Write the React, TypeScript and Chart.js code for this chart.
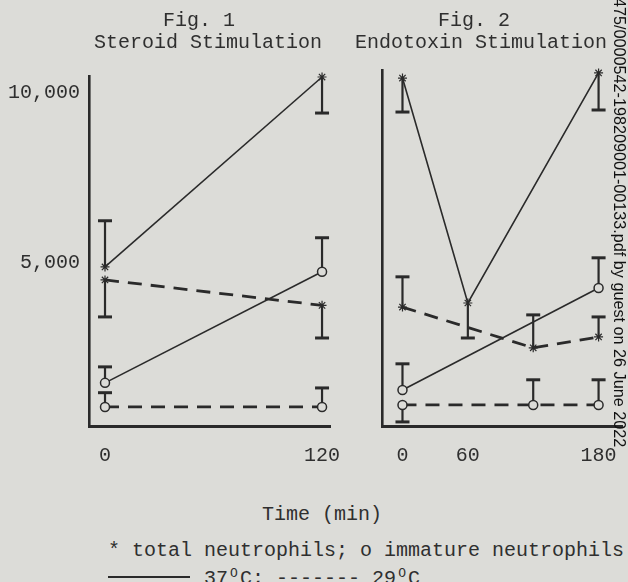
import React, { useEffect, useRef } from 'react';
import { Chart, registerables } from 'chart.js';

Chart.register(...registerables);

// ---- data (cells per mm3, time in minutes) ----
const fig1Times = [0, 120];
const fig1Total37 = [4880, 10470];
const fig1Total37Err = [6240, 9410];
const fig1Total29 = [4500, 3750];
const fig1Total29Err = [3410, 2790];
const fig1Imm37 = [1470, 4740];
const fig1Imm37Err = [1940, 5740];
const fig1Imm29 = [760, 760];
const fig1Imm29Err = [1180, 1320];

const fig2Times = [0, 60, 120, 180];
const fig2Total37 = [10440, 3820, null, 10590];
const fig2Total37Err = [9440, 2790, null, 9500];
const fig2Total29 = [3700, null, 2500, 2820];
const fig2Total29Err = [4590, null, 3470, 3410];
const fig2Imm37 = [1260, null, null, 4260];
const fig2Imm37Err = [2030, null, null, 5150];
const fig2Imm29 = [820, null, 820, 820];
const fig2Imm29Err = [320, null, 1560, 1560];

const fig1XTicks = [0, 120];
const fig2XTicks = [0, 60, 180];
const yTicks = [5000, 10000];

const BG = '#dcdcd8';
const INK = '#2a2a2a';
const TEXT = '#2f2f2f';
const MONO = '"Liberation Mono", "DejaVu Sans Mono", monospace';

type Pt = { x: number; y: number; e: number | null };

function series(times: number[], vals: (number | null)[], errs: (number | null)[]): Pt[] {
  const out: Pt[] = [];
  times.forEach((t, k) => {
    const v = vals[k];
    if (v != null) out.push({ x: t, y: v, e: errs[k] });
  });
  return out;
}

const errorBarPlugin = {
  id: 'errBars',
  beforeDatasetsDraw(chart: any) {
    const ctx = chart.ctx;
    const ys = chart.scales.y;
    ctx.save();
    ctx.strokeStyle = INK;
    chart.data.datasets.forEach((ds: any, i: number) => {
      const meta = chart.getDatasetMeta(i);
      ds.data.forEach((p: Pt, j: number) => {
        if (p.e == null) return;
        const el = meta.data[j];
        const px = el.x;
        const py = el.y;
        const ey = ys.getPixelForValue(p.e);
        ctx.lineWidth = 2.2;
        ctx.beginPath();
        ctx.moveTo(px, py);
        ctx.lineTo(px, ey);
        ctx.stroke();
        ctx.lineWidth = 3;
        ctx.beginPath();
        ctx.moveTo(px - 7, ey);
        ctx.lineTo(px + 7, ey);
        ctx.stroke();
      });
    });
    ctx.restore();
  },
};

function makeDatasets(
  times: number[],
  t37: (number | null)[], t37e: (number | null)[],
  t29: (number | null)[], t29e: (number | null)[],
  i37: (number | null)[], i37e: (number | null)[],
  i29: (number | null)[], i29e: (number | null)[],
) {
  const solid = { borderColor: INK, borderWidth: 1.6, borderDash: [] as number[] };
  const dashed = { borderColor: INK, borderWidth: 2.8, borderDash: [14, 9] };
  const star = { pointStyle: 'star', pointRadius: 4.5, pointBorderWidth: 1.2, pointBorderColor: INK, pointBackgroundColor: INK };
  const circ = { pointStyle: 'circle', pointRadius: 4.5, pointBorderWidth: 1.5, pointBorderColor: INK, pointBackgroundColor: BG };
  return [
    { label: 'total 37', data: series(times, t37, t37e), ...solid, ...star },
    { label: 'total 29', data: series(times, t29, t29e), ...dashed, ...star },
    { label: 'immature 37', data: series(times, i37, i37e), ...solid, ...circ },
    { label: 'immature 29', data: series(times, i29, i29e), ...dashed, ...circ },
  ].map((d) => ({ ...d, fill: false, tension: 0, clip: false, showLine: true }));
}

function makeConfig(opts: {
  datasets: any[];
  xTicks: number[];
  xMin: number;
  xMax: number;
  yMax: number;
  showY: boolean;
  yWidth: number;
  top: number;
  right: number;
  height: number;
  axisY: number;
}) {
  return {
    type: 'line',
    data: { datasets: opts.datasets },
    plugins: [errorBarPlugin],
    options: {
      animation: false,
      responsive: false,
      maintainAspectRatio: false,
      layout: { padding: { top: opts.top, right: opts.right, left: 0, bottom: 0 } },
      plugins: { legend: { display: false }, tooltip: { enabled: false } },
      scales: {
        x: {
          type: 'linear',
          min: opts.xMin,
          max: opts.xMax,
          afterBuildTicks: (s: any) => {
            s.ticks = opts.xTicks.map((v) => ({ value: v }));
          },
          afterFit: (s: any) => {
            s.height = opts.height - opts.axisY;
            s.paddingLeft = 0;
            s.paddingRight = 0;
          },
          grid: { display: false, drawTicks: false },
          border: { display: true, color: INK, width: 3 },
          ticks: {
            autoSkip: false,
            maxRotation: 0,
            padding: 18,
            color: TEXT,
            font: { family: MONO, size: 20 },
            callback: (v: any) => String(v),
          },
        },
        y: {
          type: 'linear',
          min: 200,
          max: opts.yMax,
          afterBuildTicks: (s: any) => {
            s.ticks = yTicks.map((v) => ({ value: v }));
          },
          afterFit: (s: any) => {
            s.width = opts.yWidth;
            s.paddingTop = 0;
            s.paddingBottom = 0;
          },
          grid: { display: false, drawTicks: false },
          border: { display: true, color: INK, width: 2.6 },
          ticks: {
            display: opts.showY,
            padding: 9,
            color: TEXT,
            font: { family: MONO, size: 20 },
            callback: (v: any) => Number(v).toLocaleString('en-US'),
          },
        },
      },
    },
  };
}

function Panel(props: { left: number; width: number; height: number; config: any }) {
  const ref = useRef<HTMLCanvasElement | null>(null);
  useEffect(() => {
    if (!ref.current) return;
    const chart = new Chart(ref.current, props.config);
    return () => chart.destroy();
  }, []);
  return (
    <canvas
      ref={ref}
      width={props.width}
      height={props.height}
      style={{ position: 'absolute', left: props.left, top: 0, width: props.width, height: props.height, display: 'block' }}
    />
  );
}

function Txt(props: { cx?: number; left?: number; top: number; children: any; size?: number }) {
  const style: any = {
    position: 'absolute',
    top: props.top,
    fontFamily: MONO,
    fontSize: props.size || 20,
    lineHeight: '20px',
    color: TEXT,
    whiteSpace: 'nowrap',
  };
  if (props.cx != null) {
    style.left = props.cx - 200;
    style.width = 400;
    style.textAlign = 'center';
  } else {
    style.left = props.left;
  }
  return <div style={style}>{props.children}</div>;
}

const supO = (
  <span style={{ display: 'inline-block', width: 12, fontSize: 13, verticalAlign: 7, textAlign: 'center', lineHeight: '10px' }}>O</span>
);

export default function App() {
  const H = 480;
  const AXIS_Y = 426;
  const cfg1 = makeConfig({
    datasets: makeDatasets(fig1Times, fig1Total37, fig1Total37Err, fig1Total29, fig1Total29Err, fig1Imm37, fig1Imm37Err, fig1Imm29, fig1Imm29Err),
    xTicks: fig1XTicks,
    xMin: -8.85,
    xMax: 124.4,
    yMax: 10500,
    showY: true,
    yWidth: 89,
    top: 76,
    right: 15,
    height: H,
    axisY: AXIS_Y,
  });
  const cfg2 = makeConfig({
    datasets: makeDatasets(fig2Times, fig2Total37, fig2Total37Err, fig2Total29, fig2Total29Err, fig2Imm37, fig2Imm37Err, fig2Imm29, fig2Imm29Err),
    xTicks: fig2XTicks,
    xMin: -18.8,
    xMax: 201.5,
    yMax: 10677,
    showY: false,
    yWidth: 37,
    top: 70,
    right: 0,
    height: H,
    axisY: AXIS_Y,
  });

  return (
    <div
      style={{
        position: 'fixed',
        left: 0,
        top: 0,
        width: 628,
        height: 582,
        background: BG,
        overflow: 'hidden',
      }}
    >
      <Panel left={0} width={345} height={H} config={cfg1} />
      <Panel left={345} width={283} height={H} config={cfg2} />

      <Txt cx={199} top={11}>Fig. 1</Txt>
      <Txt cx={208} top={33}>Steroid Stimulation</Txt>
      <Txt cx={474} top={11}>Fig. 2</Txt>
      <Txt cx={481} top={33}>Endotoxin Stimulation</Txt>

      <Txt cx={322} top={505}>Time (min)</Txt>
      <Txt left={108} top={541}>* total neutrophils; o immature neutrophils</Txt>
      <div style={{ position: 'absolute', left: 108, top: 576, width: 82, height: 2, background: INK }} />
      <Txt left={204} top={569}>
        37{supO}C; ------- 29{supO}C
      </Txt>

      <div
        style={{
          position: 'absolute',
          left: 611,
          top: -200,
          height: 647,
          writingMode: 'vertical-rl',
          textAlign: 'end',
          fontFamily: '"Liberation Sans", Arial, sans-serif',
          fontSize: 16.2,
          lineHeight: '18px',
          color: '#111',
          whiteSpace: 'nowrap',
        }}
      >
        475/0000542-198209001-00133.pdf by guest on 26 June 2022
      </div>
    </div>
  );
}
